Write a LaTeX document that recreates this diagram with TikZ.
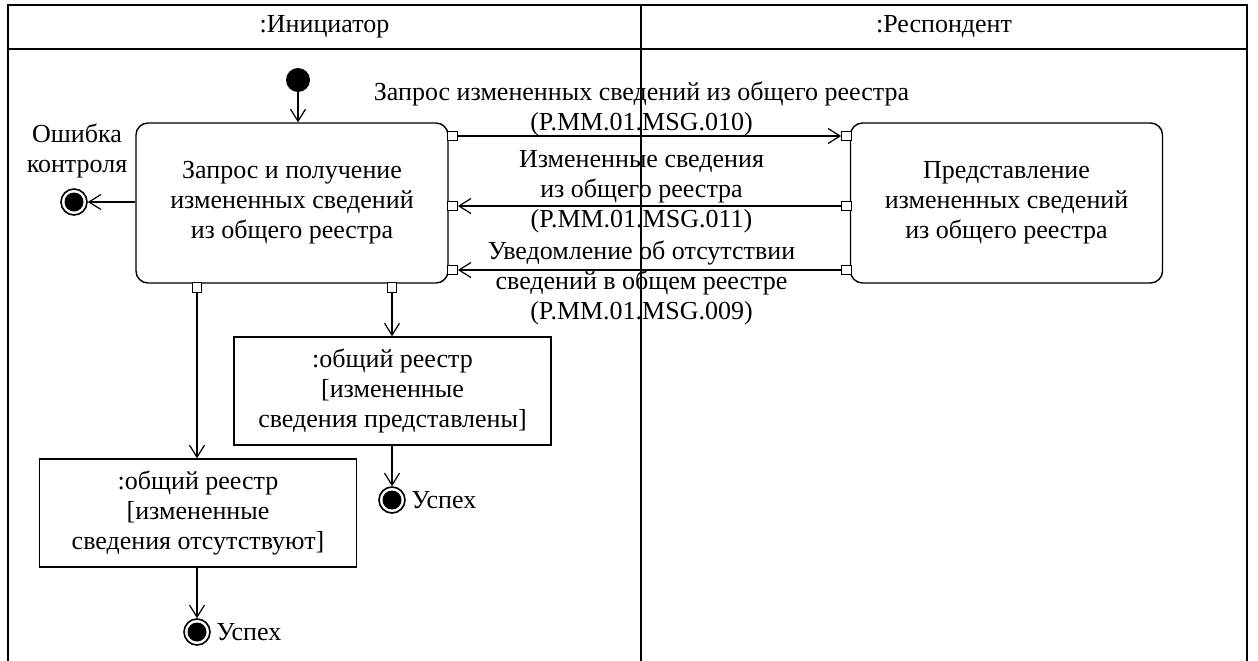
\documentclass[tikz,border=0pt]{standalone}
\usepackage{fontspec}
\setmainfont{Liberation Serif}
\usetikzlibrary{arrows.meta, positioning}

\begin{document}
\begin{tikzpicture}[
  x=1pt, y=-1pt,
  font=\fontsize{26}{30}\selectfont,
  lane/.style={line width=1.8pt},
  action/.style={draw, line width=1.4pt, rounded corners=12pt, align=center, minimum width=312pt, minimum height=160pt, inner sep=0pt},
  objbox/.style={draw, line width=1.4pt, align=center, minimum width=317pt, minimum height=108pt, inner sep=0pt},
  pinbox/.style={draw, line width=1.2pt, fill=white, minimum size=9.5pt, inner sep=0pt},
  startdot/.style={circle, fill=black, minimum size=24pt, inner sep=0pt},
  enddot/.style={circle, draw, line width=1.6pt, fill=white, minimum size=26pt, inner sep=0pt,
                 path picture={\fill[black] (path picture bounding box.center) circle (9.5pt);}},
  flow/.style={-{Straight Barb[length=12pt, width=15pt]}, line width=1.2pt},
  msg/.style={align=center, inner sep=0pt},
]
  \useasboundingbox (0,0) rectangle (1258,661);

  % Swimlanes
  \draw[lane] (8,661) -- (8,5) -- (1247,5) -- (1247,661);
  \draw[lane] (8,49) -- (1247,49);
  \draw[lane] (641,5) -- (641,661);
  \node (ini) at (324.5,27) {:Инициатор};
  \node (resp) at (944,27) {:Респондент};

  % Actions
  \node[action] (req) at (292,203) {Запрос и получение\\измененных сведений\\из общего реестра};
  \node[action] (pres) at (1006.5,203) {Представление\\измененных сведений\\из общего реестра};
  \node[startdot] (start) at (298,80) {};

  % Pins
  \node[pinbox] (reqo1) at (452.5,136) {};
  \node[pinbox] (reqi2) at (452.5,206) {};
  \node[pinbox] (reqi3) at (452.5,270) {};
  \node[pinbox] (reqo4) at (197,287.5) {};
  \node[pinbox] (reqo5) at (392,287.5) {};
  \node[pinbox] (presi1) at (846.5,136) {};
  \node[pinbox] (preso2) at (846.5,206) {};
  \node[pinbox] (preso3) at (846.5,270) {};

  % Error exit
  \node[enddot] (errend) at (74,202) {};
  \node[align=center] (errlbl) at (77,151) {Ошибка\\контроля};

  % Object nodes and final states
  \node[objbox] (objok) at (392.5,391) {:общий реестр\\{}[измененные\\сведения представлены]};
  \node[objbox] (objnone) at (198,513) {:общий реестр\\{}[измененные\\сведения отсутствуют]};
  \node[enddot] (endok) at (392,500) {};
  \node[right=2pt of endok] (endokl) {Успех};
  \node[enddot] (endnone) at (197,632) {};
  \node[right=2pt of endnone] (endnonel) {Успех};

  % Flows
  \draw[flow] (start) -- (start |- req.north);
  \draw[flow] (req.west |- errend) -- (errend);
  \draw[flow] (reqo1) -- node[msg, xshift=-8pt, yshift=27.5pt] {Запрос измененных сведений из общего реестра\\(P.MM.01.MSG.010)} (presi1);
  \draw[flow] (preso2) -- node[msg, xshift=-8pt, yshift=14pt] {Измененные сведения\\из общего реестра\\(P.MM.01.MSG.011)} (reqi2);
  \draw[flow] (preso3) -- node[msg, xshift=-8pt, yshift=-13pt] {Уведомление об отсутствии\\сведений в общем реестре\\(P.MM.01.MSG.009)} (reqi3);
  \draw[flow] (reqo4) -- (reqo4 |- objnone.north);
  \draw[flow] (reqo5) -- (reqo5 |- objok.north);
  \draw[flow] (objok.south -| endok) -- (endok);
  \draw[flow] (objnone.south -| endnone) -- (endnone);
\end{tikzpicture}
\end{document}
